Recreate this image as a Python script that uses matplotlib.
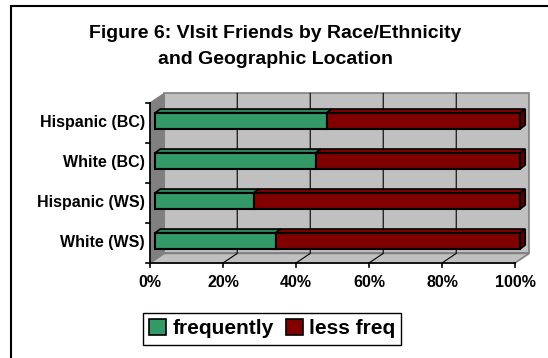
import matplotlib
matplotlib.use('Agg')
import matplotlib.pyplot as plt
from matplotlib.patches import Polygon, Rectangle, Patch

# --- data ---
groups = ['White (WS)', 'Hispanic (WS)', 'White (BC)', 'Hispanic (BC)']
frequently = [33, 27, 44, 47]
less_freq = [67, 73, 56, 53]
x_ticks = [0, 20, 40, 60, 80, 100]
x_labels = ['0%', '20%', '40%', '60%', '80%', '100%']
series_names = ['frequently', 'less freq']

GREEN = '#339966'
GREEN_TOP = '#2b8257'
RED = '#800000'
RED_SIDE = '#5a0000'
WALL = '#c0c0c0'
SIDE = '#808080'

plt.rcParams['font.family'] = ['Liberation Sans', 'DejaVu Sans']
plt.rcParams['font.weight'] = 'bold'

W, H = 548, 358
fig = plt.figure(figsize=(W / 100, H / 100), dpi=100)

# outer chart border (only top and left visible, the rest is cropped)
fig.add_artist(Rectangle((11 / W, -0.1), 1.2, (H - 6) / H + 0.1, transform=fig.transFigure,
                         fill=False, edgecolor='black', lw=1.5))

fig.text(275 / W, (H - 33) / H, 'Figure 6: VIsit Friends by Race/Ethnicity',
         ha='center', va='center', fontsize=14, fontweight='bold')
fig.text(275 / W, (H - 60) / H, 'and Geographic Location',
         ha='center', va='center', fontsize=14, fontweight='bold')

# front plane of the plot area
ax = fig.add_axes([150 / W, (H - 263) / H, 365 / W, 160 / H])
ax.set_xlim(0, 100)
ax.set_ylim(-0.5, 3.5)
ax.axis('off')

# depth of walls and bars, in data units
dxw, dyw = 3.9, 0.24
dxb, dyb = 1.4, 0.05
bdx, bdy = 1.4, 0.1
bh = 0.4
y0, y1 = -0.5, len(groups) - 0.5

# back wall, side wall and floor
ax.add_patch(Rectangle((dxw, y0 + dyw), 100, y1 - y0, facecolor=WALL, edgecolor=SIDE,
                       lw=1.2, clip_on=False, zorder=0))
ax.add_patch(Polygon([(0, y0), (0, y1), (dxw, y1 + dyw), (dxw, y0 + dyw)], closed=True,
                     facecolor=SIDE, edgecolor=SIDE, clip_on=False, zorder=0))
ax.add_patch(Polygon([(0, y0), (100, y0), (100 + dxw, y0 + dyw), (dxw, y0 + dyw)], closed=True,
                     facecolor=WALL, edgecolor=SIDE, lw=1.2, clip_on=False, zorder=0))

# gridlines on back wall and floor
for t in x_ticks[1:-1]:
    ax.plot([t + dxw, t + dxw, t], [y1 + dyw, y0 + dyw, y0], color='black', lw=0.8,
            clip_on=False, zorder=1)

# axes lines and ticks
ax.plot([0, 100], [y0, y0], color='black', lw=1.2, clip_on=False, zorder=2)
ax.plot([0, 0], [y0, y1], color='black', lw=1.2, clip_on=False, zorder=2)
for t, lab in zip(x_ticks, x_labels):
    ax.plot([t, t], [y0, y0 - 0.1], color='black', lw=1.2, clip_on=False, zorder=2)
    ax.text(t, y0 - 0.48, lab, ha='center', va='center', fontsize=11.5, fontweight='bold')
for k in range(len(groups) + 1):
    ax.plot([0, -1.1], [y0 + k, y0 + k], color='black', lw=1.2, clip_on=False, zorder=2)
for i, g in enumerate(groups):
    ax.text(-1.4, i, g, ha='right', va='center', fontsize=11.5, fontweight='bold')

# bars: front faces via barh, top and side faces as polygons
ypos = [i + dyb for i in range(len(groups))]
lefts = [dxb] * len(groups)
ax.barh(ypos, frequently, left=lefts, height=bh, color=GREEN, edgecolor='black', lw=1.5,
        zorder=3, clip_on=False)
ax.barh(ypos, less_freq, left=[l + f for l, f in zip(lefts, frequently)], height=bh,
        color=RED, edgecolor='black', lw=1.5, zorder=3, clip_on=False)
for i in range(len(groups)):
    top = ypos[i] + bh / 2
    bot = ypos[i] - bh / 2
    xa = dxb
    xb = dxb + frequently[i]
    xc = xb + less_freq[i]
    for (u, v, c) in [(xa, xb, GREEN_TOP), (xb, xc, RED)]:
        ax.add_patch(Polygon([(u, top), (v, top), (v + bdx, top + bdy), (u + bdx, top + bdy)],
                             closed=True, facecolor=c, edgecolor='black', lw=1.2,
                             clip_on=False, zorder=2.9))
    ax.add_patch(Polygon([(xc, bot), (xc, top), (xc + bdx, top + bdy), (xc + bdx, bot + bdy)],
                         closed=True, facecolor=RED_SIDE, edgecolor='black', lw=1.2,
                         clip_on=False, zorder=2.9))

handles = [Patch(facecolor=GREEN, edgecolor='black', lw=1.2),
           Patch(facecolor=RED, edgecolor='black', lw=1.2)]
leg = fig.legend(handles, series_names, loc='upper left', bbox_to_anchor=(143 / W, (H - 313) / H),
                 ncol=2, fancybox=False, framealpha=1, edgecolor='black',
                 prop={'size': 15, 'weight': 'bold'}, handlelength=0.8, handleheight=0.8,
                 handletextpad=0.3, columnspacing=0.6, borderpad=0.3, borderaxespad=0)
leg.get_frame().set_linewidth(1.0)

fig.savefig('out.png', dpi=100)
